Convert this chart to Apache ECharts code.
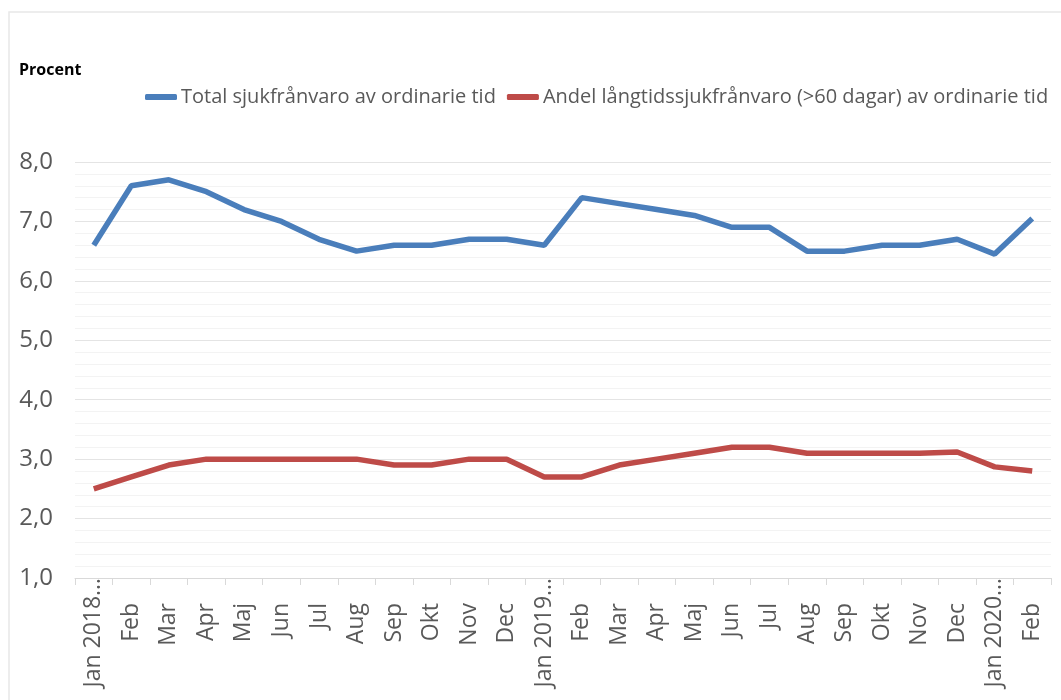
<!DOCTYPE html>
<html>
<head>
<meta charset="utf-8">
<script src="https://cdn.jsdelivr.net/npm/echarts@6/dist/echarts.min.js"></script>
<style>
html,body{margin:0;padding:0;background:#fff;}
#c{width:1061px;height:700px;}
</style>
</head>
<body>
<div id="c"></div>
<script>
const categories = ['Jan 2018…','Feb','Mar','Apr','Maj','Jun','Jul','Aug','Sep','Okt','Nov','Dec',
  'Jan 2019…','Feb','Mar','Apr','Maj','Jun','Jul','Aug','Sep','Okt','Nov','Dec','Jan 2020…','Feb'];
const totalValues = [6.6,7.6,7.7,7.5,7.2,7.0,6.7,6.5,6.6,6.6,6.7,6.7,6.6,7.4,7.3,7.2,7.1,6.9,6.9,6.5,6.5,6.6,6.6,6.7,6.45,7.05];
const longValues = [2.5,2.7,2.9,3.0,3.0,3.0,3.0,3.0,2.9,2.9,3.0,3.0,2.7,2.7,2.9,3.0,3.1,3.2,3.2,3.1,3.1,3.1,3.1,3.12,2.87,2.8];
const seriesNames = ['Total sjukfrånvaro av ordinarie tid','Andel långtidssjukfrånvaro (>60 dagar) av ordinarie tid'];
const yTitle = 'Procent';

const chart = echarts.init(document.getElementById('c'), null, {renderer:'canvas'});
const font = '"Open Sans", sans-serif';
chart.setOption({
  animation:false,
  backgroundColor:'#fff',
  graphic:[
    {type:'rect', shape:{x:9,y:12,width:1200,height:900}, style:{fill:'none',stroke:'#e8e8e8',lineWidth:1.5}},
    {type:'text', left:19, top:62, style:{text:yTitle, font:'bold 16px "Open Sans", sans-serif', fill:'#000'}}
  ],
  legend:{
    left:140, top:82, itemWidth:32, itemHeight:6, itemGap:11, icon:'roundRect',
    textStyle:{fontFamily:font, fontSize:20, color:'#595959', padding:[0,0,0,-1]},
    data:seriesNames
  },
  grid:{left:75, right:10, top:162, bottom:122},
  xAxis:{
    type:'category', data:categories, boundaryGap:true,
    axisLine:{lineStyle:{color:'#d9d9d9',width:1}},
    axisTick:{show:true,length:7,lineStyle:{color:'#d9d9d9'}},
    axisLabel:{rotate:90, interval:0, margin:0, fontFamily:font, fontSize:23, color:'#595959',
      formatter:v=>v.length>4 ? '{l|'+v+'}' : '{s|'+v+'}',
      rich:{
        l:{fontFamily:font, fontSize:23, color:'#595959', padding:[0,0,0,0]},
        s:{fontFamily:font, fontSize:23, color:'#595959', padding:[0,25,0,0]}
      }
    }
  },
  yAxis:{
    type:'value', min:1, max:8, interval:1,
    axisLine:{show:false}, axisTick:{show:false},
    axisLabel:{margin:22, fontFamily:font, fontSize:24, color:'#595959',
      formatter:v=>v.toFixed(1).replace('.',',')},
    splitLine:{lineStyle:{color:'#e4e4e4',width:1}},
    minorTick:{show:false, splitNumber:5},
    minorSplitLine:{show:true, lineStyle:{color:'#f3f3f3',width:1}}
  },
  series:[
    {name:seriesNames[0], type:'line', data:totalValues, symbol:'none', lineStyle:{width:5.5,color:'#4a7ebb'}, itemStyle:{color:'#4a7ebb'}},
    {name:seriesNames[1], type:'line', data:longValues, symbol:'none', lineStyle:{width:5.5,color:'#be4b48'}, itemStyle:{color:'#be4b48'}}
  ]
});
</script>
</body>
</html>
